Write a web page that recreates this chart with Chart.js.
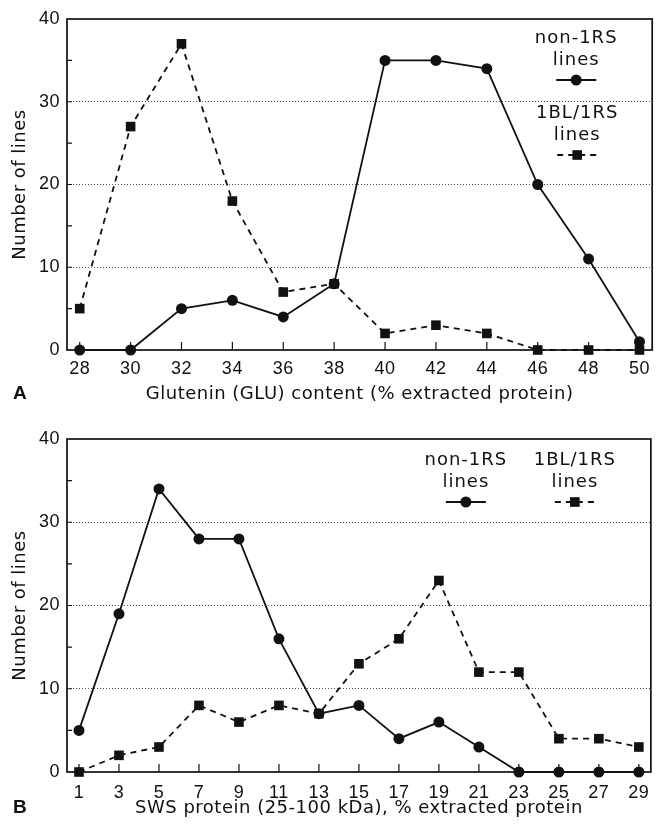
<!DOCTYPE html>
<html>
<head>
<meta charset="utf-8">
<script src="https://cdn.jsdelivr.net/npm/chart.js@4"></script>
<style>
  html, body { margin: 0; padding: 0; background: #fff; }
  canvas { display: block; }
</style>
</head>
<body>
<canvas id="chartA" width="659" height="415"></canvas>
<canvas id="chartB" width="659" height="418"></canvas>
<script>
// Panel A - glutenin (GLU) content
const gluContent = [28, 30, 32, 34, 36, 38, 40, 42, 44, 46, 48, 50];
const gluNon1RS  = [0, 0, 5, 6, 4, 8, 35, 35, 34, 20, 11, 1];
const glu1BL1RS  = [5, 27, 37, 18, 7, 8, 2, 3, 2, 0, 0, 0];

// Panel B - SWS protein
const swsContent = [1, 3, 5, 7, 9, 11, 13, 15, 17, 19, 21, 23, 25, 27, 29];
const swsNon1RS  = [5, 19, 34, 28, 28, 16, 7, 8, 4, 6, 3, 0, 0, 0, 0];
const sws1BL1RS  = [0, 2, 3, 8, 6, 8, 7, 13, 16, 23, 12, 12, 4, 4, 3];

const yLabels = [0, 10, 20, 30, 40];
const seriesNames = ['non-1RS lines', '1BL/1RS lines'];

const INK = '#111';

// frame round the plot and the inward tick marks
const framePlugin = {
  id: 'frame',
  beforeDatasetsDraw(chart) {
    const { ctx, chartArea: a, scales: { x, y } } = chart;
    ctx.save();
    ctx.strokeStyle = INK;
    ctx.lineWidth = 1.2;
    ctx.beginPath();
    x.ticks.forEach(t => {
      const px = x.getPixelForValue(t.value);
      ctx.moveTo(px, a.bottom);
      ctx.lineTo(px, a.bottom - 8);
    });
    y.ticks.forEach(t => {
      if (t.value > y.min && t.value < y.max) {
        const py = y.getPixelForValue(t.value);
        ctx.moveTo(a.left, py);
        ctx.lineTo(a.left + 5, py);
      }
    });
    ctx.stroke();
    ctx.lineWidth = 1.7;
    ctx.strokeRect(a.left, a.top, a.right - a.left, a.bottom - a.top);
    ctx.restore();
  }
};

// key: two text rows and a line sample under them
const keyPlugin = {
  id: 'lineKey',
  beforeDatasetsDraw(chart, args, opts) {
    const { ctx, chartArea: a } = chart;
    ctx.save();
    ctx.font = '18px "DejaVu Sans"';
    ctx.letterSpacing = '1px';
    ctx.textAlign = 'center';
    ctx.textBaseline = 'middle';
    chart.data.datasets.forEach((d, i) => {
      const cx = a.right - opts.at[i][0];
      const cy = a.top + opts.at[i][1];
      ctx.fillStyle = '#fff';
      ctx.fillRect(cx - 50, cy - 11, 100, 34);
      ctx.fillStyle = INK;
      d.label.split(' ').forEach((row, k) => ctx.fillText(row, cx, cy + k * 22));
      const sy = cy + 42;
      ctx.strokeStyle = INK;
      ctx.lineWidth = d.borderWidth;
      ctx.setLineDash(d.borderDash || []);
      ctx.beginPath();
      ctx.moveTo(cx - 20, sy);
      ctx.lineTo(cx + 20, sy);
      ctx.stroke();
      ctx.setLineDash([]);
      ctx.beginPath();
      if (d.pointStyle === 'rect') {
        const s = d.pointRadius * Math.SQRT1_2;
        ctx.rect(cx - s, sy - s, 2 * s, 2 * s);
      } else {
        ctx.arc(cx, sy, d.pointRadius, 0, Math.PI * 2);
      }
      ctx.fill();
    });
    ctx.restore();
  }
};

const letterPlugin = {
  id: 'panelLetter',
  beforeDraw(chart) { chart.ctx.letterSpacing = '0.5px'; },
  afterDraw(chart, args, opts) {
    const ctx = chart.ctx;
    ctx.save();
    ctx.letterSpacing = '0px';
    ctx.font = 'bold 19px "Liberation Sans"';
    ctx.fillStyle = INK;
    ctx.textBaseline = 'middle';
    ctx.fillText(opts.letter, 13, chart.height - opts.fromBottom);
    ctx.restore();
    chart.ctx.letterSpacing = '0px';
  }
};

function makePanel(id, p) {
  const pts = vals => p.x.map((x, i) => ({ x: x, y: vals[i] }));
  return new Chart(document.getElementById(id), {
    type: 'line',
    data: {
      datasets: [
        {
          label: seriesNames[0], data: pts(p.non),
          borderColor: INK, backgroundColor: INK, borderWidth: 1.8,
          pointStyle: 'circle', pointRadius: 5.5, pointHoverRadius: 5.5,
          pointBackgroundColor: INK, pointBorderColor: INK, pointBorderWidth: 0,
          tension: 0, clip: false, order: 1
        },
        {
          label: seriesNames[1], data: pts(p.bl),
          borderColor: INK, backgroundColor: INK, borderWidth: 1.8, borderDash: [6, 5],
          pointStyle: 'rect', pointRadius: 6.8, pointHoverRadius: 6.8,
          pointBackgroundColor: INK, pointBorderColor: INK, pointBorderWidth: 0,
          tension: 0, clip: false, order: 0
        }
      ]
    },
    options: {
      responsive: false,
      animation: false,
      events: [],
      layout: { padding: { top: p.padTop, right: 4, left: 0, bottom: 0 } },
      scales: {
        x: {
          type: 'linear',
          min: p.xMin, max: p.xMax,
          afterBuildTicks: axis => { axis.ticks = p.x.map(v => ({ value: v })); },
          afterFit: axis => { axis.height = p.xAxisHeight; },
          grid: { display: false, drawTicks: false },
          border: { display: false },
          ticks: {
            autoSkip: false, maxRotation: 0, padding: p.tickPad, color: INK,
            font: { family: 'Liberation Sans', size: 18 }
          },
          title: {
            display: true, text: p.title, color: INK,
            font: { family: 'DejaVu Sans', size: 18 },
            padding: { top: 0, bottom: p.titlePad }
          }
        },
        y: {
          min: 0, max: 40,
          afterFit: axis => { axis.width = 67; },
          grid: {
            drawTicks: false, lineWidth: 1,
            color: c => (c.tick && yLabels.includes(c.tick.value) && c.tick.value > 0 && c.tick.value < 40) ? '#555' : 'rgba(0,0,0,0)'
          },
          border: { display: false, dash: [1, 2] },
          ticks: {
            stepSize: 5, padding: 7, color: INK,
            font: { family: 'Liberation Sans', size: 18 },
            callback: v => yLabels.includes(v) ? v : ''
          },
          title: {
            display: true, text: 'Number of lines', color: INK,
            font: { family: 'DejaVu Sans', size: 18 },
            padding: { top: 10, bottom: 0 }
          }
        }
      },
      plugins: {
        legend: { display: false },
        tooltip: { enabled: false },
        lineKey: { at: p.keyAt },
        panelLetter: { letter: p.letter, fromBottom: p.titlePad + 10.8 }
      }
    },
    plugins: [framePlugin, keyPlugin, letterPlugin]
  });
}

makePanel('chartA', {
  x: gluContent, non: gluNon1RS, bl: glu1BL1RS,
  xMin: 27.5, xMax: 50.5,
  padTop: 19, xAxisHeight: 65, tickPad: 8, titlePad: 10,
  title: 'Glutenin (GLU) content (% extracted protein)',
  keyAt: [[76, 19], [75, 94]],
  letter: 'A'
});

makePanel('chartB', {
  x: swsContent, non: swsNon1RS, bl: sws1BL1RS,
  xMin: 0.4, xMax: 29.6,
  padTop: 24, xAxisHeight: 61, tickPad: 10, titlePad: 14,
  title: 'SWS protein (25-100 kDa), % extracted protein',
  keyAt: [[185, 21], [76, 21]],
  letter: 'B'
});
</script>
</body>
</html>
